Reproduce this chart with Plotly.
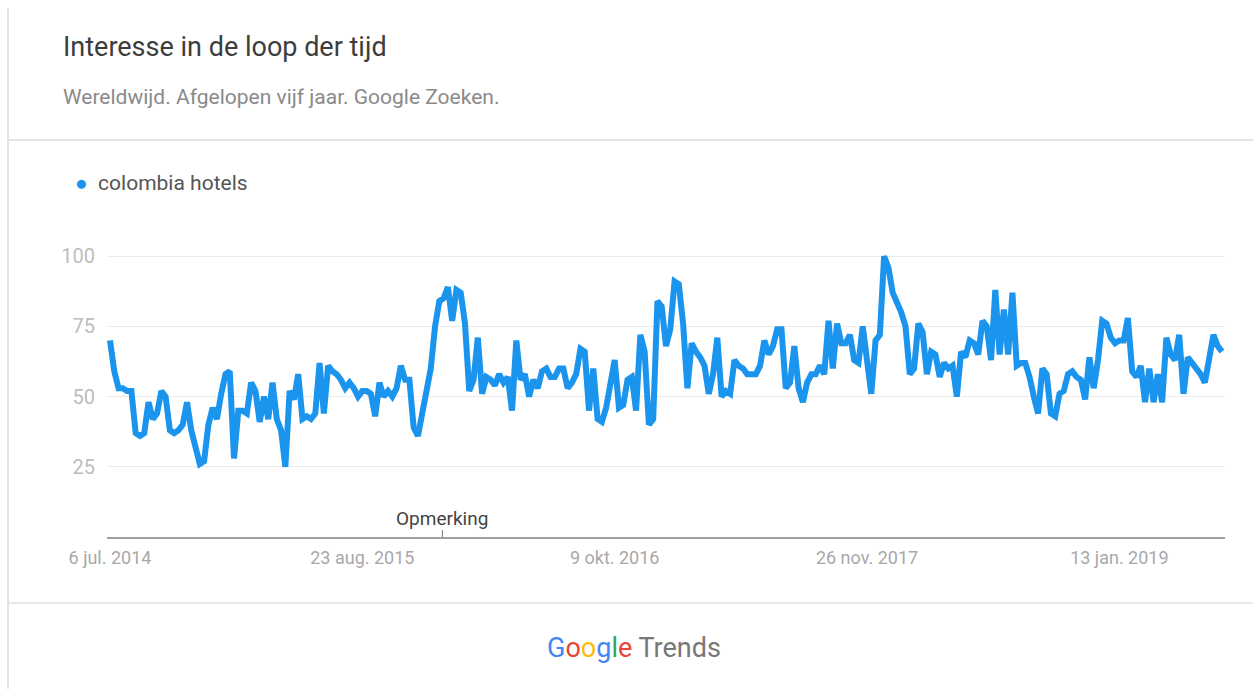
import pandas as pd
import plotly.graph_objects as go

# ---------------- data ----------------
series_name = "colombia hotels"
start_date = "2014-07-06"
weekly_values = [
    70, 59, 53, 53, 52, 52, 37, 36, 37, 48, 42, 44, 52, 50, 38, 37, 38, 40, 48, 38,
    32, 26, 27, 40, 46, 42, 51, 58, 59, 28, 45, 45, 44, 55, 52, 41, 50, 42, 55, 42,
    38, 25, 52, 49,
    58, 42, 43, 42, 44, 62, 44, 61, 59, 58, 56, 53, 55, 53, 50, 52, 52, 51, 43, 55,
    50, 52, 50, 53, 61, 56, 56, 39, 36, 45, 52, 60, 75, 84, 85, 89, 77, 88, 87, 76,
    52, 56, 71, 51,
    57, 56, 54, 58, 55, 57, 45, 70, 56, 58, 50, 56, 53, 59, 60, 57, 57, 60, 60, 53,
    55, 58, 67, 66, 45, 60, 42, 41, 46, 56, 63, 46, 47, 56, 57, 45, 72, 66, 40, 42,
    84, 82, 68, 74, 91, 90, 76, 53,
    69, 66, 64, 61, 51, 58, 71, 50, 52, 51, 63, 61, 60, 58, 58, 58, 61, 70, 65, 68,
    74, 74, 53, 55, 68, 53, 48, 55, 58, 58, 61, 58, 77, 60, 76, 69, 69, 72, 63, 62,
    75,
    64, 51, 70, 72, 100, 96, 87, 84, 80, 75, 58, 60, 76, 73, 58, 66, 65, 57, 62, 60,
    61, 50, 66, 64, 70, 69, 65, 77, 75, 63, 88, 65, 81, 65, 87, 61, 62, 62, 57, 50,
    44, 60, 58, 44, 43,
    51, 52, 58, 59, 57, 56, 49, 64, 53, 63, 77, 76, 71, 69, 70, 70, 78, 59, 57, 61,
    48, 60, 48, 58, 48, 71, 65, 63, 72, 51, 64, 62, 60, 58, 55, 63, 72, 68, 66,
]
dates = pd.date_range(start_date, periods=len(weekly_values), freq="7D")

x_tick_dates = ["2014-07-06", "2015-08-23", "2016-10-09", "2017-11-26", "2019-01-13"]
x_tick_text = ["6 jul. 2014", "23 aug. 2015", "9 okt. 2016", "26 nov. 2017", "13 jan. 2019"]
y_tick_vals = [25, 50, 75, 100]
note_date = "2016-01-01"
note_text = "Opmerking"

title_text = "Interesse in de loop der tijd"
subtitle_text = "Wereldwijd. Afgelopen vijf jaar. Google Zoeken."

# ---------------- layout helpers ----------------
W, H = 1253, 689
L, R, T, B = 107, 28, 245, 152
LINE_COLOR = "#1b94ee"


def px(x):
    return (x - L) / (W - L - R)


def py(y):
    return (H - B - y) / (H - T - B)


fig = go.Figure()
fig.add_trace(go.Scatter(
    x=dates, y=weekly_values, mode="lines",
    line=dict(color=LINE_COLOR, width=6),
    name=series_name, showlegend=False,
))

shapes = [
    dict(type="line", xref="paper", yref="paper", x0=px(8), x1=px(1260), y0=py(140), y1=py(140),
         line=dict(color="#e4e4e4", width=2)),
    dict(type="line", xref="paper", yref="paper", x0=px(8), x1=px(1260), y0=py(603), y1=py(603),
         line=dict(color="#e8e8e8", width=2)),
    dict(type="line", xref="paper", yref="paper", x0=px(8), x1=px(8), y0=py(8), y1=py(700),
         line=dict(color="#e4e4e4", width=2)),
    dict(type="line", xref="x", yref="paper", x0=note_date, x1=note_date, y0=py(530), y1=py(537),
         line=dict(color="#777777", width=1)),
]

google = ("<span style='color:#4285F4'>G</span><span style='color:#EA4335'>o</span>"
          "<span style='color:#FBBC05'>o</span><span style='color:#4285F4'>g</span>"
          "<span style='color:#34A853'>l</span><span style='color:#EA4335'>e</span>")

annotations = [
    dict(text=title_text, xref="paper", yref="paper", x=px(61), y=py(47), xanchor="left",
         yanchor="middle", showarrow=False, font=dict(size=27, color="#3d3d3d")),
    dict(text=subtitle_text, xref="paper", yref="paper", x=px(61), y=py(97), xanchor="left",
         yanchor="middle", showarrow=False, font=dict(size=21, color="#8a8a8a")),
    dict(text=f"<span style='color:{LINE_COLOR}'>●</span>  {series_name}", xref="paper", yref="paper",
         x=px(73), y=py(183), xanchor="left", yanchor="middle", showarrow=False,
         font=dict(size=21, color="#555555")),
    dict(text=note_text, xref="x", yref="paper", x=note_date, y=py(518), xanchor="center",
         yanchor="middle", showarrow=False, font=dict(size=19, color="#444444")),
    dict(text=f"{google} <span style='color:#777777'>Trends</span>", xref="paper", yref="paper",
         x=px(634), y=py(648), xanchor="center", yanchor="middle", showarrow=False,
         font=dict(size=27, family="Roboto, Open Sans, sans-serif")),
]

fig.update_layout(
    width=W, height=H,
    margin=dict(l=L, r=R, t=T, b=B, pad=0),
    paper_bgcolor="white", plot_bgcolor="white",
    font=dict(family="Roboto, Open Sans, sans-serif"),
    shapes=shapes, annotations=annotations,
    xaxis=dict(
        type="date",
        range=["2014-07-01 02:00", "2019-07-04 22:00"],
        tickvals=x_tick_dates, ticktext=x_tick_text,
        showgrid=False, zeroline=False,
        showline=True, linecolor="#a0a0a0", linewidth=2,
        ticks="", tickfont=dict(size=18, color="#a8a8a8"),
        ticklabelstandoff=3,
    ),
    yaxis=dict(
        range=[0, 104],
        tickvals=y_tick_vals,
        showgrid=True, gridcolor="#ececec", gridwidth=1,
        zeroline=False, showline=False, ticks="",
        tickfont=dict(size=20, color="#bdbdbd"),
        ticklabelstandoff=11,
    ),
)

fig.write_html("out.html", config={"displayModeBar": False},
               post_script="document.body.style.margin='0';")
